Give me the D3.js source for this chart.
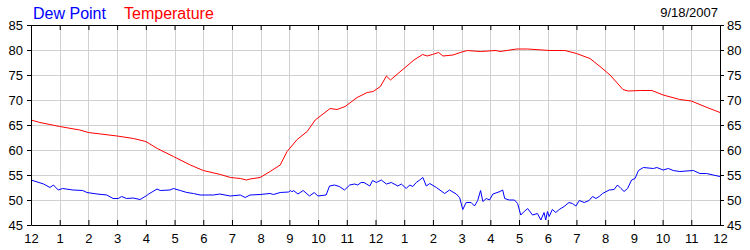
<!DOCTYPE html>
<html><head><meta charset="utf-8">
<script src="https://cdn.jsdelivr.net/npm/d3@7"></script>
<style>html,body{margin:0;padding:0;background:#fff;overflow:hidden}</style>
</head><body>
<svg id="chart" width="750" height="250"></svg>
<script>
const hourLabels = ["12","1","2","3","4","5","6","7","8","9","10","11","12","1","2","3","4","5","6","7","8","9","10","11","12"];
const yTicks = [45,50,55,60,65,70,75,80,85];
const dateLabel = "9/18/2007";
const seriesNames = ["Dew Point","Temperature"];

const tempHours = [0,0.31,1,1.7,2,3,3.57,4,4.4,4.96,5.55,6,6.6,6.95,7.3,7.5,7.63,7.98,8.33,8.68,8.92,9.27,9.62,9.9,10.42,10.66,10.94,11.36,11.71,11.92,12.17,12.38,12.52,12.99,13.34,13.64,13.8,13.98,14.2,14.35,14.7,14.95,15.2,15.65,16.2,16.34,16.92,17.3,18.08,18.6,19.0,19.47,19.82,20.17,20.62,20.8,21.22,21.63,22.02,22.6,23.0,23.55,24];
const tempValues = [66.0,65.5,64.7,64.0,63.5,62.8,62.3,61.7,60.3,58.7,57.0,55.9,55.1,54.5,54.3,54.0,54.2,54.5,55.7,57.0,59.7,62.1,63.7,66.0,68.3,68.1,68.7,70.5,71.5,71.7,72.7,74.8,74.0,76.3,78.0,79.1,78.8,79.1,79.5,78.8,79.0,79.5,79.9,79.7,79.9,79.7,80.2,80.2,79.9,79.9,79.3,78.3,76.7,75.0,72.1,71.8,71.9,71.9,71.0,70.1,69.8,68.5,67.5];

const dewHours = [0,0.44,0.66,0.78,0.95,1.1,1.46,1.8,1.95,2.3,2.64,2.86,3.04,3.16,3.33,3.56,3.8,4.03,4.1,4.39,4.5,4.84,4.96,5.2,5.43,5.66,5.89,6.35,6.58,6.94,7.29,7.46,7.63,7.98,8.33,8.45,8.68,8.97,9.05,9.1,9.14,9.3,9.48,9.7,9.87,9.99,10.28,10.4,10.57,10.74,10.92,11.1,11.27,11.38,11.5,11.6,11.8,11.9,12.03,12.2,12.38,12.55,12.78,12.9,13.07,13.19,13.3,13.42,13.54,13.65,13.77,13.89,14.12,14.41,14.58,14.81,14.93,15.04,15.16,15.33,15.45,15.56,15.66,15.74,15.86,15.97,16.09,16.34,16.43,16.5,16.66,16.84,16.95,17.06,17.18,17.3,17.47,17.64,17.76,17.87,17.93,17.99,18.05,18.16,18.28,18.4,18.57,18.74,18.86,18.98,19.1,19.27,19.44,19.56,19.68,19.79,19.91,20.14,20.31,20.43,20.55,20.66,20.78,20.92,21.04,21.16,21.33,21.68,21.8,22.02,22.2,22.37,22.6,23.07,23.3,23.53,23.76,24];
const dewValues = [54.0,53.2,52.5,53.0,52.0,52.3,52.0,51.9,51.5,51.2,51.0,50.3,50.3,50.7,50.3,50.4,50.1,50.9,51.2,52.2,51.9,52.0,52.3,51.9,51.5,51.3,51.0,51.0,51.2,50.8,51.0,50.5,51.0,51.1,51.3,51.1,51.5,51.6,51.9,51.6,51.9,51.2,51.9,50.8,51.5,50.8,51.0,52.8,53.0,52.7,52.0,53.0,53.2,53.0,53.5,53.5,52.8,53.9,53.5,54.0,53.2,53.5,52.8,53.2,52.3,53.0,52.7,53.5,54.0,54.5,52.8,53.3,52.5,51.3,52.0,51.2,50.5,48.1,49.5,49.5,48.8,49.9,51.9,49.7,50.3,50.0,51.2,51.7,52.0,50.3,50.0,50.0,49.3,47.0,47.7,48.3,47.0,47.3,46.0,47.5,46.0,47.7,46.7,48.1,47.5,48.1,48.7,49.5,49.3,48.8,49.9,49.5,49.9,50.7,50.3,50.7,51.3,52.0,52.1,53.0,52.3,51.7,52.3,54.0,54.3,55.9,56.5,56.3,56.5,56.0,56.3,55.9,55.7,55.9,55.3,55.3,55.0,54.7];

const svg = d3.select("#chart");
const L = 31, R = 720, T = 25, B = 225;
const x = d3.scaleLinear().domain([0,24]).range([L,R]);
const y = d3.scaleLinear().domain([45,85]).range([B,T]);
const font = "Arial, 'Liberation Sans', sans-serif";
const hourTicks = d3.range(0,25);

// grid
svg.append("g").selectAll("line.v").data(hourTicks.slice(1,-1)).join("line")
  .attr("x1",d=>Math.round(x(d))+0.5).attr("x2",d=>Math.round(x(d))+0.5)
  .attr("y1",T).attr("y2",B).attr("stroke","#d0d0d0").attr("stroke-width",1);
svg.append("g").selectAll("line.h").data(yTicks.slice(1,-1)).join("line")
  .attr("x1",L).attr("x2",R)
  .attr("y1",d=>Math.round(y(d))+0.5).attr("y2",d=>Math.round(y(d))+0.5)
  .attr("stroke","#d0d0d0").attr("stroke-width",1);

// series
const line = d3.line().x(d=>x(d[0])).y(d=>y(d[1]));
svg.append("path").datum(d3.zip(dewHours,dewValues)).attr("d",line)
  .attr("fill","none").attr("stroke","#0000ff").attr("stroke-width",1);
svg.append("path").datum(d3.zip(tempHours,tempValues)).attr("d",line)
  .attr("fill","none").attr("stroke","#ff0000").attr("stroke-width",1);

// axes
const axB = d3.axisBottom(x).tickValues(hourTicks).tickFormat(d=>hourLabels[d]).tickSizeInner(-5).tickSizeOuter(0).tickPadding(9);
const axT = d3.axisTop(x).tickValues(hourTicks).tickFormat("").tickSizeInner(-5).tickSizeOuter(0);
const axL = d3.axisLeft(y).tickValues(yTicks).tickSizeInner(4).tickSizeOuter(0).tickPadding(4);
const axR = d3.axisRight(y).tickValues(yTicks).tickSizeInner(4).tickSizeOuter(0).tickPadding(3);
function style(g){
  g.select(".domain").attr("stroke","#000");
  g.selectAll(".tick line").attr("stroke","#000");
  g.selectAll("text").attr("fill","#000").style("font-family",font).style("font-size","13px");
}
svg.append("g").attr("transform",`translate(0,${B})`).call(axB).call(style);
svg.append("g").attr("transform",`translate(0,${T})`).call(axT).call(style);
svg.append("g").attr("transform",`translate(${L},0)`).call(axL).call(style);
svg.append("g").attr("transform",`translate(${R},0)`).call(axR).call(style);

// legend & date
svg.append("text").attr("x",33).attr("y",19).attr("fill","#0000ff")
  .style("font-family",font).style("font-size","16px").text(seriesNames[0]);
svg.append("text").attr("x",124).attr("y",19).attr("fill","#ff0000")
  .style("font-family",font).style("font-size","16px").text(seriesNames[1]);
svg.append("text").attr("x",718).attr("y",17).attr("text-anchor","end").attr("fill","#000")
  .style("font-family",font).style("font-size","13px").text(dateLabel);
</script>
</body></html>
